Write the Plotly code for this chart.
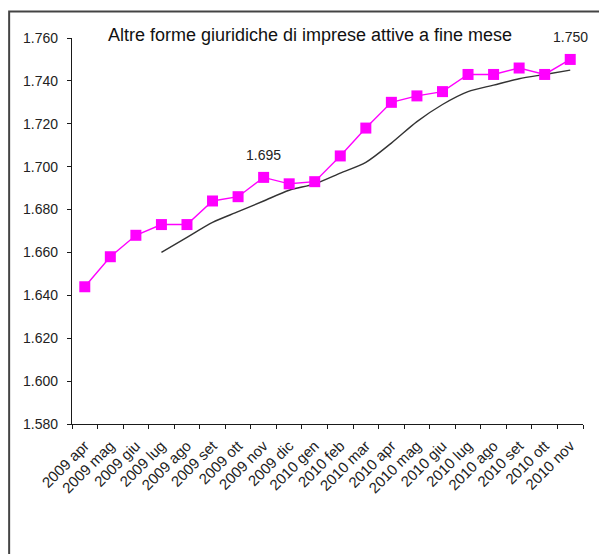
import plotly.graph_objects as go

categories = ["2009 apr", "2009 mag", "2009 giu", "2009 lug", "2009 ago", "2009 set",
              "2009 ott", "2009 nov", "2009 dic", "2010 gen", "2010 feb", "2010 mar",
              "2010 apr", "2010 mag", "2010 giu", "2010 lug", "2010 ago", "2010 set",
              "2010 ott", "2010 nov"]
imprese = [1644, 1658, 1668, 1673, 1673, 1684, 1686, 1695, 1692, 1693,
           1705, 1718, 1730, 1733, 1735, 1743, 1743, 1746, 1743, 1750]
tendenza = [None, None, None, 1660, 1667, 1674, 1679, 1684, 1689, 1692,
            1697, 1702, 1711, 1721, 1729, 1735, 1738, 1741, 1743, 1745]
labelled = ["2009 nov", "2010 nov"]
y_ticks = [1580, 1600, 1620, 1640, 1660, 1680, 1700, 1720, 1740, 1760]
title_text = "Altre forme giuridiche di imprese attive a fine mese"

FONT = "Liberation Sans, Arial, sans-serif"
AX = "#1a1a1a"

W, H = 599, 546

fig = go.Figure()
fig.add_trace(go.Scatter(
    x=categories, y=tendenza, mode="lines",
    line=dict(color="#333333", width=1.4, shape="spline", smoothing=0.8),
    connectgaps=False, showlegend=False, hoverinfo="skip"))
fig.add_trace(go.Scatter(
    x=categories, y=imprese, mode="lines+markers",
    line=dict(color="#FF00FF", width=1.4),
    marker=dict(symbol="square", size=11, color="#FF00FF", line=dict(width=0)),
    showlegend=False))

annotations = []
for c in labelled:
    v = imprese[categories.index(c)]
    annotations.append(dict(
        x=c, y=v, xref="x", yref="y", text=f"{v:,}".replace(",", "."),
        showarrow=False, yshift=22, font=dict(family=FONT, size=14, color="#222222")))

n = len(categories)
bounds = [i - 0.5 for i in range(n + 1)]

fig.update_layout(
    width=W, height=H,
    margin=dict(l=64, r=24, t=30, b=130),
    paper_bgcolor="white", plot_bgcolor="white",
    separators=",.",
    showlegend=False,
    title=dict(text=title_text, x=0.4658, xref="paper", xanchor="center",
               y=1 - 27 / H, yref="container", yanchor="middle",
               font=dict(family=FONT, size=18, color="#111111")),
    xaxis=dict(type="category", categoryorder="array", categoryarray=categories,
               range=[-0.5, n - 0.5], tickson="boundaries",
               ticks="outside", ticklen=4, tickwidth=1.4, tickcolor=AX,
               showline=True, linecolor=AX, linewidth=1.4,
               showgrid=False, zeroline=False, tickangle=-45,
               ticklabelstandoff=6,
               tickfont=dict(family=FONT, size=15, color="#222222")),
    xaxis2=dict(overlaying="x", anchor="y", side="bottom", range=[-0.5, n - 0.5],
                tickmode="array", tickvals=bounds, ticks="inside", ticklen=4,
                tickwidth=1.4, tickcolor=AX, showticklabels=False,
                showline=False, showgrid=False, zeroline=False),
    yaxis=dict(range=[1580, 1760], tickmode="array", tickvals=y_ticks,
               tickformat=",d", ticks="outside", ticklen=4, tickwidth=1.4,
               tickcolor=AX, showline=True, linecolor=AX, linewidth=1.4,
               showgrid=False, zeroline=False, ticklabelstandoff=6,
               tickfont=dict(family=FONT, size=14, color="#222222")),
    yaxis2=dict(overlaying="y", anchor="x", side="left", range=[1580, 1760],
                tickmode="array", tickvals=y_ticks, ticks="inside", ticklen=4,
                tickwidth=1.4, tickcolor=AX, showticklabels=False,
                showline=False, showgrid=False, zeroline=False),
    annotations=annotations,
    shapes=[dict(type="rect", xref="paper", yref="paper",
                 x0=-0.123, x1=1.3, y0=-1.0, y1=1.0685,
                 line=dict(color="#444444", width=2), layer="below")],
)

fig.write_html("out.html")
